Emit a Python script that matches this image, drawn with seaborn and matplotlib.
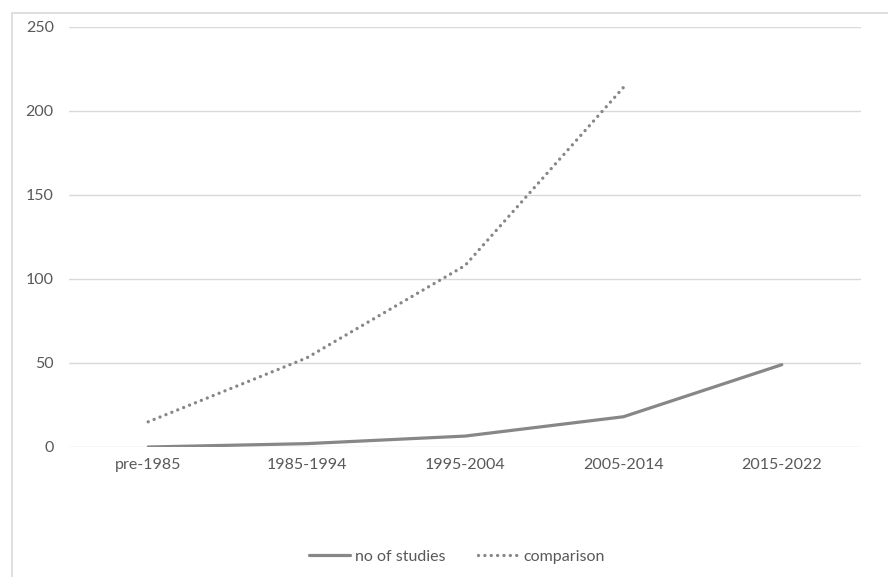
import matplotlib
matplotlib.use("Agg")
import matplotlib.pyplot as plt
from matplotlib.patches import Rectangle
from matplotlib.lines import Line2D
import seaborn as sns
import pandas as pd

periods = ["pre-1985", "1985-1994", "1995-2004", "2005-2014", "2015-2022"]
no_of_studies = [0, 2, 6.5, 18, 49]
comparison_periods = ["pre-1985", "1985-1994", "1995-2004", "2005-2014"]
comparison = [15, 53, 108, 214]
y_ticks = [0, 50, 100, 150, 200, 250]

sns.set_theme(style="white")
plt.rcParams["font.family"] = ["Lato", "DejaVu Sans"]

text_color = "#595959"
line_color = "#878787"

fig = plt.figure(figsize=(8.88, 5.77), dpi=100)
ax = fig.add_axes([69 / 888, 1 - 447 / 577, 792 / 888, 420 / 577])

# light frame around the chart area
fig.patches.append(Rectangle((12 / 888, -0.02), 1.0, 1 - 13 / 577 + 0.02,
                             transform=fig.transFigure, fill=False,
                             edgecolor="#d9d9d9", linewidth=1.2))

studies_df = pd.DataFrame({"period": periods, "value": no_of_studies})
comp_df = pd.DataFrame({"period": comparison_periods, "value": comparison})

sns.lineplot(data=studies_df, x="period", y="value", ax=ax, color=line_color,
             linewidth=2.3, sort=False)
sns.lineplot(data=comp_df, x="period", y="value", ax=ax, color=line_color,
             linewidth=2.4, sort=False, linestyle=(0, (0.01, 1.9)),
             dash_capstyle="round")
for ln in ax.lines[1:]:
    ln.set_dash_capstyle("round")
    ln.set_solid_capstyle("round")

ax.set_xlim(-0.5, 4.5)
ax.set_ylim(0, 250)
ax.set_yticks(y_ticks)
ax.set_xticks(range(len(periods)))
ax.set_xticklabels(periods)
ax.grid(axis="y", color="#d9d9d9", linewidth=1)
ax.grid(axis="x", visible=False)
for s in ax.spines.values():
    s.set_visible(False)
ax.tick_params(axis="both", length=0, labelsize=11.5, colors=text_color)
ax.tick_params(axis="y", pad=11)
ax.tick_params(axis="x", pad=8)
ax.set_xlabel("")
ax.set_ylabel("")

handles = [
    Line2D([], [], color=line_color, linewidth=2.3),
    Line2D([], [], color=line_color, linewidth=2.4, linestyle=(0, (0.01, 1.9)),
           dash_capstyle="round"),
]
leg = fig.legend(handles, ["no of studies", "comparison"], loc="center",
                 bbox_to_anchor=(457 / 888, 1 - 557 / 577), ncol=2, frameon=False,
                 fontsize=11.5, handlelength=2.6, handletextpad=0.3, columnspacing=2.0,
                 labelcolor=text_color)

fig.savefig("out.png", dpi=100)
